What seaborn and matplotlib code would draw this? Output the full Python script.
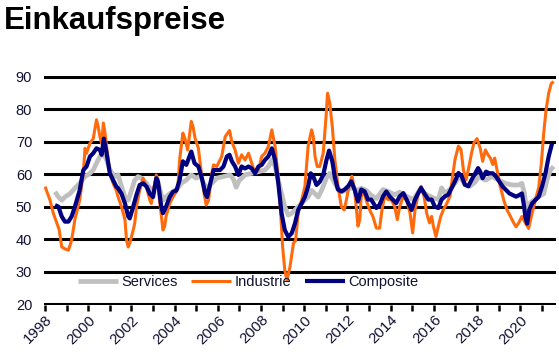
import numpy as np
import pandas as pd
import seaborn as sns
import matplotlib
matplotlib.use("Agg")
import matplotlib.pyplot as plt

sns.set_style("white")
plt.rcParams['font.family'] = ['Liberation Sans', 'DejaVu Sans']

# ---------------- data ----------------
industrie_x = [1998.0, 1998.23, 1998.38, 1998.54, 1998.65, 1998.77, 1998.92, 1999.08, 1999.23, 1999.38,
               1999.6, 1999.77, 1999.85, 1999.92, 2000.08, 2000.23, 2000.38, 2000.46, 2000.54, 2000.62,
               2000.7, 2000.77, 2000.85, 2000.92, 2001.0, 2001.15, 2001.3, 2001.38, 2001.54, 2001.62,
               2001.7, 2001.77, 2001.85, 2001.92, 2002.08, 2002.15, 2002.23, 2002.38, 2002.46, 2002.54,
               2002.7, 2002.85, 2002.92, 2003.08, 2003.15, 2003.23, 2003.3, 2003.46, 2003.54, 2003.6,
               2003.77, 2003.92, 2004.08, 2004.15, 2004.23, 2004.38, 2004.48, 2004.6, 2004.77, 2004.85,
               2004.95, 2005.1, 2005.18, 2005.34, 2005.46, 2005.57, 2005.72, 2005.8, 2005.95, 2006.1,
               2006.18, 2006.34, 2006.54, 2006.65, 2006.8, 2006.95, 2007.1, 2007.26, 2007.42, 2007.57,
               2007.72, 2007.88, 2008.03, 2008.18, 2008.34, 2008.5, 2008.65, 2008.8, 2008.9, 2009.0,
               2009.1, 2009.2, 2009.34, 2009.5, 2009.6, 2009.72, 2009.88, 2010.03, 2010.18, 2010.34,
               2010.42, 2010.5, 2010.6, 2010.72, 2010.88, 2011.0, 2011.08, 2011.18, 2011.3, 2011.42,
               2011.57, 2011.72, 2011.85, 2011.95, 2012.1, 2012.21, 2012.33, 2012.49, 2012.57, 2012.64,
               2012.77, 2012.87, 2013.03, 2013.18, 2013.34, 2013.49, 2013.6, 2013.72, 2013.88, 2014.03,
               2014.19, 2014.31, 2014.42, 2014.57, 2014.74, 2014.9, 2015.02, 2015.13, 2015.28, 2015.41,
               2015.55, 2015.67, 2015.8, 2015.9, 2015.98, 2016.1, 2016.21, 2016.32, 2016.44, 2016.6,
               2016.75, 2016.87, 2016.98, 2017.14, 2017.26, 2017.37, 2017.49, 2017.6, 2017.75, 2017.86,
               2018.0, 2018.15, 2018.26, 2018.39, 2018.51, 2018.62, 2018.73, 2018.82, 2018.93, 2019.08,
               2019.24, 2019.39, 2019.55, 2019.7, 2019.81, 2019.93, 2020.08, 2020.24, 2020.39, 2020.55,
               2020.7, 2020.86, 2020.98, 2021.09, 2021.2, 2021.32, 2021.44, 2021.55]
industrie_y = [56.2, 52, 48, 45, 43, 37.6, 37, 36.6, 39.7, 46,
               52, 60.3, 68, 66.5, 69.6, 71, 76.8, 74.7, 71.6, 69.5,
               75.8, 73, 68.6, 64.4, 60.3, 57.2, 55, 53, 50, 48,
               46, 39.7, 37.6, 38.7, 42.8, 44.8, 50, 55, 57, 58.8,
               56, 52, 51, 57.2, 59.8, 58.5, 52, 42.8, 44, 47,
               51, 53, 54.6, 56.2, 64.4, 72.7, 71, 67.5, 76.3, 74.7,
               71, 68, 63.4, 55, 50.5, 52, 60.3, 62.9, 62.4, 64.4,
               65.5, 71.6, 73.5, 70, 67.5, 63.4, 66, 64.4, 66.5, 63.4,
               60.3, 61.3, 65.5, 66.5, 68.6, 73.7, 68.6, 58.6, 49, 37.6,
               30.4, 27.3, 31.4, 38.7, 39.6, 48, 52, 56.2, 68.6, 73.7,
               71.6, 65.5, 62.4, 62.4, 66.5, 76.8, 85, 82, 74.7, 64.4,
               56, 50, 49, 52, 57.3, 59.4, 55.3, 44, 46, 53.2,
               54.7, 52, 49, 47, 43.4, 43.4, 49, 53.2, 52.2, 52.2,
               50, 46, 50, 53, 52, 48, 41.9, 49, 54, 56.3,
               53.2, 48, 45, 47, 44, 40.8, 44, 47, 49, 51,
               53.2, 59.4, 64.5, 68.7, 67.6, 61.4, 58.3, 61.4, 66.6, 69.7,
               71, 68, 64, 67.5, 66, 65, 63, 65, 61.3, 56.2,
               52, 49, 47, 45, 43.8, 45, 47, 45, 43.3, 48,
               52, 56, 63.4, 72.7, 80, 85, 88, 88.6]

composite_x = [1998.46, 1998.62, 1998.77, 1998.92, 1999.08, 1999.23, 1999.38, 1999.6, 1999.77, 1999.92,
               2000.08, 2000.23, 2000.38, 2000.54, 2000.62, 2000.72, 2000.85, 2001.0, 2001.15, 2001.3,
               2001.38, 2001.54, 2001.7, 2001.85, 2001.92, 2002.08, 2002.23, 2002.38, 2002.54, 2002.7,
               2002.85, 2003.0, 2003.15, 2003.23, 2003.38, 2003.46, 2003.6, 2003.77, 2003.92, 2004.08,
               2004.23, 2004.38, 2004.54, 2004.77, 2004.92, 2005.1, 2005.26, 2005.42, 2005.5, 2005.65,
               2005.8, 2005.95, 2006.1, 2006.26, 2006.42, 2006.54, 2006.65, 2006.8, 2006.95, 2007.1,
               2007.26, 2007.42, 2007.57, 2007.72, 2007.88, 2008.03, 2008.18, 2008.34, 2008.5, 2008.65,
               2008.8, 2008.95, 2009.1, 2009.26, 2009.42, 2009.57, 2009.72, 2009.88, 2010.03, 2010.18,
               2010.3, 2010.42, 2010.57, 2010.72, 2010.88, 2011.03, 2011.15, 2011.3, 2011.42, 2011.56,
               2011.72, 2011.87, 2012.03, 2012.18, 2012.33, 2012.49, 2012.64, 2012.8, 2012.95, 2013.1,
               2013.34, 2013.49, 2013.65, 2013.8, 2013.95, 2014.1, 2014.26, 2014.42, 2014.59, 2014.74,
               2014.97, 2015.13, 2015.28, 2015.41, 2015.6, 2015.75, 2015.9, 2016.05, 2016.21, 2016.36,
               2016.52, 2016.67, 2016.83, 2016.98, 2017.14, 2017.29, 2017.44, 2017.6, 2017.75, 2017.92,
               2018.05, 2018.15, 2018.26, 2018.42, 2018.57, 2018.73, 2018.88, 2019.04, 2019.19, 2019.34,
               2019.5, 2019.65, 2019.81, 2019.96, 2020.08, 2020.16, 2020.24, 2020.32, 2020.42, 2020.55,
               2020.7, 2020.86, 2021.01, 2021.17, 2021.32, 2021.48]
composite_y = [50.5, 50, 47, 45.4, 45.4, 47, 50, 55, 61.3, 62.4,
               65.5, 66.5, 68, 67.5, 66, 71, 66.5, 60.3, 58.2, 56.2,
               55.7, 54, 51, 47, 46.4, 50, 53.6, 56.7, 57.2, 56.2,
               54, 53, 58.8, 57.7, 50, 48, 50, 53, 54.6, 55,
               58.2, 64, 62.9, 67, 63.4, 62.4, 58.8, 54, 53, 57.2,
               61.3, 61.3, 61.3, 62.4, 65.5, 66, 64, 62.4, 59.8, 62.4,
               61.8, 62.4, 61.8, 60.3, 62.4, 62.9, 64.4, 65.5, 68, 64.4,
               57.2, 48, 42.8, 40.7, 41.8, 44.8, 49, 51, 53, 56.2,
               60.3, 59.3, 56.7, 57.7, 59.8, 64.4, 67.3, 64, 59, 55.3,
               54.7, 55.3, 56.3, 57.8, 55.3, 51.6, 55.3, 54.7, 52.2, 52.2,
               49.6, 50.6, 53.2, 54.7, 53.2, 52.2, 51.1, 53.2, 54.2, 52.2,
               49, 52.2, 54.2, 55.8, 53.7, 52.2, 52.2, 50, 49.6, 52.2,
               53.2, 53.7, 55.8, 57.8, 60.4, 59.4, 56.8, 56.3, 58.3, 60.3,
               61.9, 60.8, 58.8, 60.8, 60.3, 60.3, 59.3, 57.7, 56.2, 55.2,
               54.1, 53.6, 53.1, 53.6, 54.1, 51, 46.9, 44.8, 49, 51,
               52, 53.1, 56.2, 60.3, 65.5, 69.6]

services_x = [1998.46, 1998.62, 1998.77, 1998.92, 1999.15, 1999.38, 1999.6, 1999.85, 2000.08, 2000.23,
              2000.38, 2000.54, 2000.7, 2000.85, 2001.0, 2001.23, 2001.38, 2001.54, 2001.7, 2001.85,
              2002.0, 2002.15, 2002.3, 2002.46, 2002.7, 2002.92, 2003.08, 2003.23, 2003.46, 2003.6,
              2003.77, 2003.92, 2004.15, 2004.3, 2004.54, 2004.77, 2005.0, 2005.2, 2005.34, 2005.5,
              2005.72, 2005.95, 2006.26, 2006.57, 2006.72, 2006.85, 2006.98, 2007.26, 2007.57, 2007.88,
              2008.18, 2008.34, 2008.5, 2008.65, 2008.8, 2008.95, 2009.1, 2009.26, 2009.42, 2009.57,
              2009.72, 2009.88, 2010.03, 2010.18, 2010.34, 2010.5, 2010.65, 2010.8, 2011.03, 2011.18,
              2011.34, 2011.5, 2011.72, 2011.95, 2012.2, 2012.43, 2012.65, 2012.88, 2013.1, 2013.34,
              2013.65, 2013.88, 2014.19, 2014.42, 2014.74, 2015.05, 2015.36, 2015.67, 2015.98, 2016.21,
              2016.36, 2016.52, 2016.75, 2016.98, 2017.21, 2017.44, 2017.67, 2017.9, 2018.08, 2018.39,
              2018.7, 2019.0, 2019.31, 2019.62, 2019.93, 2020.08, 2020.2, 2020.32, 2020.42, 2020.62,
              2020.86, 2021.09, 2021.24, 2021.4, 2021.55]
services_y = [54.6, 53, 52, 53, 54, 55.7, 57.2, 59.3, 60.3, 61.3,
              63.4, 65.5, 66.5, 64.4, 61.3, 59.3, 59.8, 56.2, 53, 52,
              55, 58.2, 59.3, 58.8, 57.2, 55, 56.2, 57.2, 52, 53,
              54, 54.6, 55.7, 57.2, 58.2, 59.8, 58.8, 59.5, 57.2, 55.7,
              57.2, 58.8, 59.3, 59.8, 58.5, 56, 58, 59.8, 60.3, 60.8,
              61.3, 62.4, 64.4, 62.4, 58.2, 54, 50, 47.4, 48, 49,
              50, 51, 52, 53, 55, 54, 53, 55, 58.8, 60.3,
              58.2, 56.2, 54.6, 55, 56, 55, 55.7, 55, 53.5, 52.5,
              55.3, 54.7, 53.7, 54.5, 53.2, 52.2, 55.3, 53.7, 52.7, 52.2,
              55.8, 54.2, 55.3, 57.3, 59.4, 56.8, 56.3, 57.5, 59.3, 58.2,
              59.3, 58.2, 57.2, 56.7, 56.7, 57.2, 54, 47, 51, 52,
              53.1, 54, 58.2, 61.3, 62.4]

y_ticks = [20, 30, 40, 50, 60, 70, 80, 90]
x_ticks = list(range(1998, 2022))
x_ticklabels = [str(y) if y % 2 == 0 else "" for y in x_ticks]

title = "Einkaufspreise"
series_names = ["Services", "Industrie", "Composite"]
colors = {"Services": "#BFBFBF", "Industrie": "#FF6A0D", "Composite": "#000080"}
widths = {"Services": 3.4, "Industrie": 2.2, "Composite": 3.0}

frames = [
    pd.DataFrame({"x": services_x, "y": services_y, "series": "Services"}),
    pd.DataFrame({"x": industrie_x, "y": industrie_y, "series": "Industrie"}),
    pd.DataFrame({"x": composite_x, "y": composite_y, "series": "Composite"}),
]

# ---------------- figure ----------------
fig = plt.figure(figsize=(5.59, 3.55), dpi=100)
ax = fig.add_axes([0.0787, 0.140, 0.916, 0.6468])

for df in frames:
    name = df["series"].iloc[0]
    sns.lineplot(data=df, x="x", y="y", ax=ax, color=colors[name],
                 linewidth=widths[name], label=name, estimator=None, sort=False,
                 solid_joinstyle="round", solid_capstyle="butt", zorder=3)

ax.set_xlim(1997.95, 2021.66)
ax.set_ylim(19.6, 90.4)
ax.set_yticks(y_ticks)
ax.set_yticklabels([str(v) for v in y_ticks])
ax.set_xticks(x_ticks)
ax.set_xticklabels(x_ticklabels, rotation=45, ha="right", va="top",
                   rotation_mode="anchor")
ax.set_xlabel("")
ax.set_ylabel("")

for s in ax.spines.values():
    s.set_visible(False)

ax.yaxis.grid(True, color="black", linewidth=2.2)
ax.xaxis.grid(False)
ax.set_axisbelow(True)

ax.tick_params(axis="y", length=0, pad=8.5, labelsize=10.5, labelcolor="#111133")
ax.tick_params(axis="x", direction="out", length=4.5, width=1.8, color="black",
               pad=1, labelsize=10.8, labelcolor="#111133", bottom=True)

handles, labels = ax.get_legend_handles_labels()
order = [labels.index(n) for n in series_names]
leg = ax.legend([handles[i] for i in order], [labels[i] for i in order],
                loc="center left", bbox_to_anchor=((78 - 44) / 512, 0.103),
                ncol=3, frameon=False, fontsize=10.5, handlelength=2.75,
                handletextpad=0.2, columnspacing=0.95, borderpad=0, borderaxespad=0)
for t in leg.get_texts():
    t.set_color("#111133")

fig.text(4 / 559, 1 - 28.5 / 355, title, fontsize=22.5, fontweight="bold",
         ha="left", va="baseline", color="black")

fig.savefig("out.png", dpi=100)
